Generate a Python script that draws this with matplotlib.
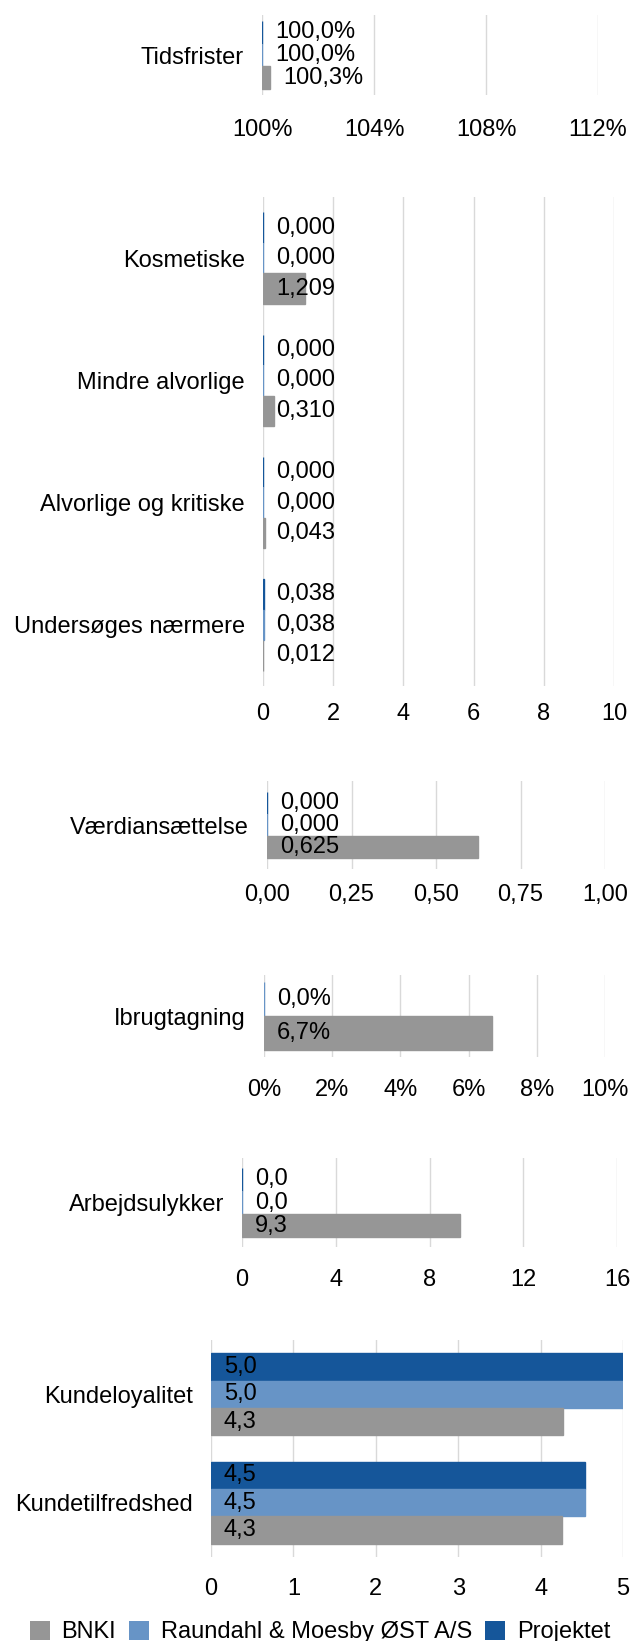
import matplotlib.pyplot as plt
from matplotlib.patches import Patch
from matplotlib.transforms import ScaledTranslation

plt.rcParams['font.family'] = ['Liberation Sans', 'DejaVu Sans']
plt.rcParams['font.size'] = 17

series_names = ["Projektet", "Raundahl & Moesby ØST A/S", "BNKI"]
series_colors = ["#15569A", "#6794C6", "#969696"]

# Tidsfrister (%)
tids_cats = ["Tidsfrister"]
tids_projektet = [100.0]
tids_raundahl = [100.0]
tids_bnki = [100.3]
tids_ticks = [100, 104, 108, 112]

# Mangler
mangler_cats = ["Kosmetiske", "Mindre alvorlige", "Alvorlige og kritiske", "Undersøges nærmere"]
mangler_projektet = [0.000, 0.000, 0.000, 0.038]
mangler_raundahl = [0.000, 0.000, 0.000, 0.038]
mangler_bnki = [1.209, 0.310, 0.043, 0.012]
mangler_ticks = [0, 2, 4, 6, 8, 10]

# Værdiansættelse
vaerdi_cats = ["Værdiansættelse"]
vaerdi_projektet = [0.000]
vaerdi_raundahl = [0.000]
vaerdi_bnki = [0.625]
vaerdi_ticks = [0.00, 0.25, 0.50, 0.75, 1.00]

# Ibrugtagning (%)
ibrug_cats = ["Ibrugtagning"]
ibrug_raundahl = [0.0]
ibrug_bnki = [6.7]
ibrug_ticks = [0, 2, 4, 6, 8, 10]

# Arbejdsulykker
ulykke_cats = ["Arbejdsulykker"]
ulykke_projektet = [0.0]
ulykke_raundahl = [0.0]
ulykke_bnki = [9.3]
ulykke_ticks = [0, 4, 8, 12, 16]

# Kunder
kunde_cats = ["Kundeloyalitet", "Kundetilfredshed"]
kunde_projektet = [5.0, 4.54]
kunde_raundahl = [5.0, 4.54]
kunde_bnki = [4.27, 4.26]
kunde_ticks = [0, 1, 2, 3, 4, 5]

W, H = 630, 1641
fig = plt.figure(figsize=(W / 100, H / 100), dpi=100)


def dk(v, dec):
    return f"{v:.{dec}f}".replace('.', ',')


def panel(box, cats, data, ticks, tickfmt, labfmt, group=0.76, at_end=False, pad=14):
    l, t, r, b = box
    ax = fig.add_axes([l / W, 1 - b / H, (r - l) / W, (b - t) / H])
    base = ticks[0]
    n = len(data)
    h = group / n
    for j, (si, vals) in enumerate(data):
        ys = [i - group / 2 + (j + 0.5) * h for i in range(len(cats))]
        ax.barh(ys, [v - base for v in vals], left=base, height=h,
                color=series_colors[si], edgecolor=series_colors[si], linewidth=1, zorder=2)
        for y, v in zip(ys, vals):
            x = v if at_end else base
            ax.annotate(labfmt(v), xy=(x, y), xytext=(13, 0), textcoords='offset pixels',
                        ha='left', va='center', zorder=3)
    ax.set_xlim(ticks[0], ticks[-1])
    ax.set_ylim(len(cats) - 0.5, -0.5)
    ax.set_xticks(ticks)
    ax.set_xticklabels([tickfmt(x) for x in ticks])
    ax.set_yticks(range(len(cats)))
    ax.set_yticklabels(cats)
    # category labels sit a little low in the original
    shift = ScaledTranslation(0, -0.04, fig.dpi_scale_trans)
    for lab in ax.get_yticklabels():
        lab.set_transform(lab.get_transform() + shift)
    ax.grid(axis='x', color='#D9D9D9', linewidth=1)
    ax.set_axisbelow(True)
    for s in ax.spines.values():
        s.set_visible(False)
    ax.tick_params(axis='x', length=0, pad=pad)
    ax.tick_params(axis='y', length=0, pad=13)
    return ax


panel((262, 15, 598, 95), tids_cats,
      [(0, tids_projektet), (1, tids_raundahl), (2, tids_bnki)],
      tids_ticks, lambda x: f"{x:.0f}%", lambda v: dk(v, 1) + "%",
      group=0.85, at_end=True, pad=17)

panel((263, 197, 614, 686), mangler_cats,
      [(0, mangler_projektet), (1, mangler_raundahl), (2, mangler_bnki)],
      mangler_ticks, lambda x: f"{x:.0f}", lambda v: dk(v, 3), group=0.75, pad=12)

panel((267, 781, 605, 869), vaerdi_cats,
      [(0, vaerdi_projektet), (1, vaerdi_raundahl), (2, vaerdi_bnki)],
      vaerdi_ticks, lambda x: dk(x, 2), lambda v: dk(v, 3), group=0.75, pad=11)

panel((264, 975, 605, 1057), ibrug_cats,
      [(1, ibrug_raundahl), (2, ibrug_bnki)],
      ibrug_ticks, lambda x: f"{x:.0f}%", lambda v: dk(v, 1) + "%", group=0.83, pad=16)

panel((242, 1158, 617, 1247), ulykke_cats,
      [(0, ulykke_projektet), (1, ulykke_raundahl), (2, ulykke_bnki)],
      ulykke_ticks, lambda x: f"{x:.0f}", lambda v: dk(v, 1), group=0.78, pad=16)

panel((211, 1340, 623, 1557), kunde_cats,
      [(0, kunde_projektet), (1, kunde_raundahl), (2, kunde_bnki)],
      kunde_ticks, lambda x: f"{x:.0f}", lambda v: dk(v, 1), group=0.76, pad=15)

handles = [Patch(facecolor=series_colors[i], label=series_names[i]) for i in [2, 1, 0]]
fig.legend(handles=handles, loc='center', bbox_to_anchor=(320 / W, 1 - 1632 / H), ncol=3,
           frameon=False, handlelength=0.85, handleheight=0.85, handletextpad=0.5,
           columnspacing=0.55, borderpad=0)

fig.savefig("out.png", dpi=100)
